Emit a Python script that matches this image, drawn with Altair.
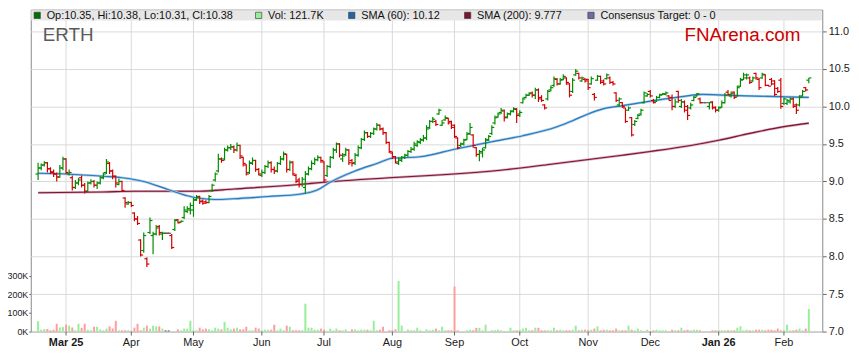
import altair as alt
import pandas as pd

# ---------------- data ----------------
opens = [
    9.10, 9.18, 9.22, 9.25, 9.17, 9.13, 9.10, 9.06, 9.18, 9.30,
    9.10, 9.05, 8.92, 8.98, 9.05, 8.95, 8.87, 8.98, 9.00, 8.95,
    8.98, 9.05, 9.12, 9.24, 9.14, 9.07, 8.96, 9.00, 8.78, 8.70,
    8.72, 8.58, 8.50, 8.22, 8.08, 7.97, 8.32, 8.28, 8.30, 8.40,
    8.30, 8.31, 8.31, 8.28, 8.36, 8.49, 8.46, 8.52, 8.60, 8.62,
    8.62, 8.76, 8.80, 8.74, 8.73, 8.72, 8.88, 9.02, 9.14, 9.30,
    9.30, 9.42, 9.45, 9.46, 9.42, 9.48, 9.32, 9.22, 9.12, 9.24,
    9.28, 9.16, 9.08, 9.12, 9.20, 9.25, 9.16, 9.14, 9.24, 9.30,
    9.36, 9.16, 9.26, 9.08, 9.02, 8.96, 8.92, 9.10, 9.17, 9.24,
    9.29, 9.32, 9.26, 9.08, 9.20, 9.32, 9.42, 9.50, 9.30, 9.36,
    9.42, 9.28, 9.25, 9.35, 9.45, 9.56, 9.65, 9.60, 9.64, 9.70,
    9.75, 9.70, 9.65, 9.52, 9.38, 9.33, 9.24, 9.28, 9.32, 9.35,
    9.40, 9.43, 9.48, 9.52, 9.55, 9.58, 9.72, 9.80, 9.80, 9.90,
    9.75, 9.82, 9.84, 9.80, 9.75, 9.58, 9.48, 9.50, 9.56, 9.64,
    9.62, 9.45, 9.36, 9.38, 9.45, 9.56, 9.64, 9.78, 9.86, 9.92,
    9.94, 9.86, 9.90, 9.94, 9.96, 9.90, 10.05, 10.12, 10.15, 10.18,
    10.15, 10.22, 10.12, 10.02, 10.10, 10.22, 10.28, 10.36, 10.30, 10.36,
    10.38, 10.30, 10.20, 10.42, 10.44, 10.34, 10.36, 10.36, 10.30, 10.16,
    10.35, 10.40, 10.34, 10.37, 10.38, 10.32, 10.18, 10.02, 10.05, 9.98,
    9.95, 9.85, 9.76, 9.84, 9.90, 10.05, 10.14, 10.20, 10.08, 10.07,
    10.12, 10.16, 10.16, 10.14, 10.12, 10.00, 10.20, 10.00, 10.06, 10.00,
    9.98, 10.08, 10.14, 10.10, 10.05, 10.05, 10.00, 10.06, 9.99, 9.95,
    9.99, 10.05, 10.19, 10.14, 10.19, 10.14, 10.27, 10.36, 10.38, 10.38,
    10.34, 10.44, 10.36, 10.38, 10.42, 10.28, 10.36, 10.34, 10.24, 10.35,
    10.04, 10.04, 10.06, 10.10, 10.02, 10.02, 10.14, 10.25, 10.35,
]
highs = [
    9.25, 9.24, 9.27, 9.26, 9.19, 9.16, 9.12, 9.22, 9.33, 9.31,
    9.16, 9.08, 9.02, 9.05, 9.08, 8.98, 9.00, 9.03, 9.02, 9.00,
    9.07, 9.12, 9.30, 9.26, 9.16, 9.08, 9.04, 9.01, 8.79, 8.74,
    8.73, 8.59, 8.54, 8.23, 8.32, 7.99, 8.52, 8.33, 8.42, 8.42,
    8.33, 8.32, 8.32, 8.30, 8.50, 8.50, 8.48, 8.67, 8.67, 8.72,
    8.78, 8.82, 8.81, 8.76, 8.75, 8.82, 8.97, 9.12, 9.37, 9.32,
    9.45, 9.48, 9.50, 9.48, 9.52, 9.49, 9.33, 9.23, 9.28, 9.32,
    9.29, 9.18, 9.16, 9.22, 9.28, 9.27, 9.20, 9.26, 9.34, 9.40,
    9.37, 9.28, 9.27, 9.10, 9.05, 9.06, 9.14, 9.20, 9.28, 9.32,
    9.35, 9.33, 9.27, 9.22, 9.34, 9.45, 9.52, 9.51, 9.38, 9.45,
    9.43, 9.30, 9.38, 9.48, 9.58, 9.68, 9.66, 9.66, 9.72, 9.78,
    9.76, 9.72, 9.66, 9.53, 9.40, 9.34, 9.32, 9.34, 9.37, 9.42,
    9.46, 9.53, 9.55, 9.58, 9.62, 9.75, 9.82, 9.86, 9.82, 9.97,
    9.82, 9.88, 9.85, 9.81, 9.76, 9.59, 9.52, 9.57, 9.66, 9.78,
    9.63, 9.46, 9.42, 9.45, 9.58, 9.62, 9.75, 9.88, 9.92, 9.98,
    9.96, 9.92, 9.95, 9.99, 9.98, 9.95, 10.12, 10.17, 10.19, 10.20,
    10.25, 10.24, 10.15, 10.03, 10.22, 10.28, 10.40, 10.38, 10.38, 10.43,
    10.39, 10.31, 10.38, 10.50, 10.45, 10.40, 10.38, 10.37, 10.40, 10.18,
    10.42, 10.41, 10.36, 10.44, 10.40, 10.34, 10.19, 10.12, 10.06, 9.98,
    10.00, 9.86, 9.82, 9.90, 9.97, 10.20, 10.18, 10.22, 10.10, 10.14,
    10.17, 10.18, 10.20, 10.15, 10.16, 10.10, 10.21, 10.10, 10.08, 10.02,
    10.05, 10.14, 10.18, 10.12, 10.05, 10.05, 10.06, 10.07, 10.00, 10.00,
    10.08, 10.18, 10.22, 10.20, 10.20, 10.28, 10.38, 10.45, 10.44, 10.40,
    10.40, 10.45, 10.38, 10.45, 10.43, 10.29, 10.38, 10.35, 10.26, 10.38,
    10.12, 10.10, 10.12, 10.12, 10.04, 10.15, 10.22, 10.26, 10.38,
]
lows = [
    9.02, 9.15, 9.20, 9.12, 9.10, 9.06, 9.00, 9.05, 9.15, 9.10,
    9.08, 8.88, 8.90, 8.95, 8.92, 8.84, 8.86, 8.96, 8.92, 8.90,
    8.96, 9.03, 9.10, 9.10, 9.03, 8.92, 8.95, 8.86, 8.65, 8.69,
    8.66, 8.47, 8.42, 8.00, 8.05, 7.86, 8.30, 8.03, 8.28, 8.28,
    8.22, 8.30, 8.30, 8.10, 8.34, 8.44, 8.45, 8.50, 8.58, 8.56,
    8.53, 8.74, 8.70, 8.69, 8.70, 8.71, 8.86, 9.00, 9.12, 9.25,
    9.28, 9.40, 9.42, 9.38, 9.40, 9.30, 9.20, 9.08, 9.10, 9.22,
    9.13, 9.08, 9.06, 9.10, 9.18, 9.12, 9.10, 9.12, 9.22, 9.28,
    9.12, 9.14, 9.08, 8.98, 8.92, 8.93, 8.84, 9.08, 9.15, 9.22,
    9.27, 9.25, 8.98, 9.06, 9.18, 9.30, 9.38, 9.32, 9.26, 9.34,
    9.22, 9.20, 9.22, 9.33, 9.43, 9.54, 9.58, 9.58, 9.62, 9.68,
    9.68, 9.62, 9.50, 9.38, 9.30, 9.24, 9.22, 9.26, 9.30, 9.33,
    9.38, 9.41, 9.46, 9.50, 9.53, 9.55, 9.70, 9.78, 9.74, 9.89,
    9.74, 9.81, 9.76, 9.70, 9.58, 9.43, 9.46, 9.48, 9.55, 9.62,
    9.45, 9.33, 9.27, 9.32, 9.44, 9.54, 9.62, 9.76, 9.85, 9.90,
    9.80, 9.84, 9.88, 9.92, 9.78, 9.86, 10.04, 10.11, 10.14, 10.12,
    10.10, 10.06, 10.06, 9.96, 10.08, 10.20, 10.26, 10.28, 10.29, 10.35,
    10.29, 10.12, 10.18, 10.41, 10.36, 10.33, 10.32, 10.22, 10.29, 10.08,
    10.34, 10.30, 10.28, 10.36, 10.30, 10.28, 10.06, 10.00, 9.98, 9.78,
    9.94, 9.60, 9.74, 9.83, 9.88, 10.04, 10.13, 10.12, 10.04, 10.06,
    10.11, 10.15, 10.15, 10.08, 9.95, 9.98, 10.05, 9.98, 9.92, 9.82,
    9.96, 10.07, 10.13, 10.04, 10.05, 10.05, 9.96, 9.96, 9.92, 9.93,
    9.98, 10.04, 10.15, 10.12, 10.10, 10.13, 10.26, 10.35, 10.36, 10.30,
    10.33, 10.36, 10.22, 10.37, 10.27, 10.27, 10.28, 10.14, 10.18, 9.97,
    10.02, 10.02, 10.04, 9.98, 9.90, 10.00, 10.13, 10.20, 10.31,
]
closes = [
    9.18, 9.22, 9.25, 9.17, 9.12, 9.10, 9.06, 9.18, 9.30, 9.12,
    9.12, 8.92, 8.98, 9.02, 8.95, 8.87, 8.98, 9.00, 8.95, 8.98,
    9.05, 9.10, 9.26, 9.14, 9.07, 8.98, 9.00, 8.88, 8.72, 8.72,
    8.68, 8.50, 8.44, 8.02, 8.28, 7.90, 8.48, 8.30, 8.38, 8.32,
    8.31, 8.31, 8.31, 8.12, 8.48, 8.45, 8.47, 8.62, 8.64, 8.68,
    8.75, 8.79, 8.73, 8.71, 8.72, 8.80, 8.95, 9.10, 9.30, 9.28,
    9.42, 9.45, 9.46, 9.42, 9.48, 9.34, 9.24, 9.10, 9.25, 9.28,
    9.16, 9.10, 9.12, 9.20, 9.25, 9.16, 9.14, 9.24, 9.30, 9.37,
    9.16, 9.25, 9.10, 9.00, 8.96, 9.03, 9.10, 9.17, 9.24, 9.29,
    9.32, 9.28, 9.02, 9.20, 9.32, 9.42, 9.50, 9.35, 9.34, 9.42,
    9.25, 9.24, 9.35, 9.45, 9.56, 9.65, 9.60, 9.64, 9.70, 9.75,
    9.70, 9.65, 9.52, 9.40, 9.33, 9.26, 9.30, 9.32, 9.35, 9.40,
    9.43, 9.50, 9.53, 9.56, 9.58, 9.70, 9.80, 9.83, 9.76, 9.95,
    9.78, 9.85, 9.78, 9.72, 9.60, 9.45, 9.50, 9.55, 9.63, 9.72,
    9.48, 9.36, 9.40, 9.42, 9.55, 9.60, 9.72, 9.85, 9.90, 9.95,
    9.85, 9.90, 9.93, 9.97, 9.88, 9.92, 10.10, 10.15, 10.17, 10.15,
    10.22, 10.10, 10.08, 9.98, 10.20, 10.25, 10.37, 10.30, 10.35, 10.40,
    10.32, 10.15, 10.35, 10.47, 10.38, 10.38, 10.34, 10.25, 10.37, 10.12,
    10.40, 10.32, 10.30, 10.42, 10.32, 10.30, 10.08, 10.10, 10.00, 9.80,
    9.98, 9.62, 9.80, 9.88, 9.95, 10.18, 10.16, 10.14, 10.05, 10.12,
    10.15, 10.17, 10.18, 10.08, 10.00, 10.06, 10.08, 10.06, 9.95, 9.88,
    10.02, 10.12, 10.17, 10.05, 10.05, 10.05, 10.05, 9.98, 9.95, 9.98,
    10.05, 10.15, 10.16, 10.17, 10.12, 10.25, 10.35, 10.42, 10.42, 10.32,
    10.38, 10.38, 10.25, 10.43, 10.28, 10.27, 10.30, 10.16, 10.20, 10.00,
    10.10, 10.08, 10.10, 10.00, 9.95, 10.12, 10.20, 10.22, 10.38,
]
vol_k = [
    56, 10, 14, 14, 7, 10, 42, 22, 25, 37,
    32, 22, 7, 42, 20, 42, 10, 7, 26, 26,
    12, 7, 16, 28, 17, 58, 7, 7, 7, 7,
    4, 21, 42, 7, 21, 32, 16, 32, 28, 28,
    16, 7, 7, 0, 0, 12, 7, 16, 16, 58,
    7, 7, 21, 12, 16, 12, 7, 21, 16, 12,
    52, 21, 12, 16, 21, 12, 12, 26, 7, 7,
    21, 16, 7, 10, 10, 10, 37, 7, 16, 7,
    32, 26, 7, 7, 7, 7, 150,
    21, 21, 10, 10, 16, 10, 4, 16, 7, 16,
    7, 7, 12, 0, 12, 12, 7, 10, 10, 10,
    7, 58, 7, 10, 26, 0, 7, 7, 12, 272,
    32, 0, 12, 7, 7, 21, 7, 0, 12, 7,
    10, 16, 7, 26, 7, 7, 7, 242,
    7, 0, 0, 7, 10, 7, 20, 20, 7, 37,
    0, 7, 7, 10, 7, 0, 0, 21, 7, 7,
    10, 16, 21, 7, 7, 21, 21, 7, 7, 7,
    7, 21, 7, 10, 7, 7, 7, 10, 32, 7,
    10, 10, 7, 10, 16, 28, 7, 10, 10, 7,
    7, 16, 7, 7, 7, 32, 10, 7, 16, 7,
    0, 10, 0, 7, 10, 7, 7, 7, 0, 10,
    7, 7, 21, 7, 10, 7, 10, 10, 7, 0,
    0, 0, 7, 7, 7, 7, 7, 7, 7, 7,
    21, 28, 7, 10, 7, 7, 10, 10, 10, 7,
    10, 10, 7, 16, 7, 7, 37, 7, 7, 10,
    16, 7, 16, 121.7,
]
month_idx = [9, 30, 50, 72, 92, 114, 134, 155, 177, 197, 219, 240]
month_lbl = ["Mar 25", "Apr", "May", "Jun", "Jul", "Aug", "Sep", "Oct", "Nov", "Dec", "Jan 26", "Feb"]

sma60_idx = [0, 9, 21, 27, 34, 42, 48, 57, 63, 74, 84, 90, 94, 102, 109, 114,
             123, 134, 146, 156, 167, 172, 177, 182, 188, 197, 207, 214, 221, 228, 239, 248]
sma60_val = [9.11, 9.10, 9.07, 9.05, 9.00, 8.89, 8.81, 8.76, 8.77, 8.80, 8.83, 8.89, 8.99, 9.14, 9.24, 9.31,
             9.33, 9.43, 9.53, 9.61, 9.73, 9.81, 9.90, 9.97, 10.01, 10.07, 10.13, 10.16, 10.15, 10.14, 10.13, 10.12]
sma200_idx = [0, 21, 31, 52, 63, 84, 92, 113, 126, 151, 165, 188, 197, 210, 219, 229, 240, 248]
sma200_val = [8.85, 8.86, 8.87, 8.87, 8.90, 8.96, 8.99, 9.05, 9.08, 9.16, 9.23, 9.35, 9.40, 9.48, 9.55, 9.64, 9.73, 9.777]

price_ticks = [7.0, 7.5, 8.0, 8.5, 9.0, 9.5, 10.0, 10.5, 11.0]
vol_ticks = [0, 100000, 200000, 300000]

# ---------------- chart ----------------
FONT = "Liberation Sans"
W, H = 799, 325

df = pd.DataFrame({"i": list(range(len(closes))), "open": opens, "high": highs,
                   "low": lows, "close": closes, "vol": [v * 1000 for v in vol_k]})
s60 = pd.DataFrame({"idx": sma60_idx, "val": sma60_val})
s200 = pd.DataFrame({"idx": sma200_idx, "val": sma200_val})
months = pd.DataFrame({"idx": month_idx, "lbl": month_lbl})
months["yr"] = months["lbl"].str.contains(r"\d")

xs = alt.Scale(domain=[-0.755, 250.74], nice=False, zero=False)
vs = alt.Scale(domain=[0, 1731000], nice=False, zero=True)


def ps():
    return alt.Scale(domain=[7.0, 11.29], nice=False, zero=False)


vol_axis = alt.Axis(orient="left", values=vol_ticks, labelExpr="datum.value/1000 + 'K'",
                    grid=False, tickSize=2, labelPadding=1, labelFontSize=9, title=None)
price_axis = alt.Axis(orient="right", values=price_ticks, format=".1f", grid=True,
                      tickSize=4, labelPadding=2, title=None)

# month grid, ticks and labels along the trading-day scale
mx = alt.X("idx:Q", scale=xs, axis=None)
mbase = alt.Chart(months)
m_grid = mbase.mark_rule(color="#dadada", strokeWidth=1).encode(x=mx, y=alt.value(0), y2=alt.value(H))
m_tick = mbase.mark_rule(color="#666666", strokeWidth=1).encode(x=mx, y=alt.value(H), y2=alt.value(H + 4))
m_lbl = mbase.transform_filter("!datum.yr").mark_text(
    baseline="top", font=FONT, fontSize=11, color="#1a1a1a").encode(
    x=mx, y=alt.value(H + 6), text="lbl:N")
m_lbl_b = mbase.transform_filter("datum.yr").mark_text(
    baseline="top", font=FONT, fontSize=11, fontWeight="bold", color="#1a1a1a").encode(
    x=mx, y=alt.value(H + 6), text="lbl:N")

base = alt.Chart(df).transform_calculate(
    pcol="datum.close > datum.open ? '#008c00' : (datum.close < datum.open ? '#d20000' : '#5a5a5a')",
    vcol="datum.close > datum.open ? '#98ee98' : (datum.close < datum.open ? '#ff9c9c' : '#7a7a7a')",
    il="datum.i - 0.8", ir="datum.i + 0.8")

vol = base.mark_bar(size=2).encode(
    x=alt.X("i:Q", scale=xs, axis=None),
    y=alt.Y("vol:Q", scale=vs, axis=vol_axis),
    color=alt.Color("vcol:N", scale=None))

hl = base.mark_rule(strokeWidth=1.2).encode(
    x=alt.X("i:Q", scale=xs, axis=None),
    y=alt.Y("low:Q", scale=ps(), axis=price_axis), y2="high:Q",
    color=alt.Color("pcol:N", scale=None))
op = base.mark_rule(strokeWidth=1.2).encode(
    x=alt.X("il:Q", scale=xs, axis=None), x2="i:Q",
    y=alt.Y("open:Q", scale=ps(), axis=None),
    color=alt.Color("pcol:N", scale=None))
cl = base.mark_rule(strokeWidth=1.2).encode(
    x=alt.X("i:Q", scale=xs, axis=None), x2="ir:Q",
    y=alt.Y("close:Q", scale=ps(), axis=None),
    color=alt.Color("pcol:N", scale=None))


def sma(frame, halo, core):
    enc = dict(x=alt.X("idx:Q", scale=xs, axis=None), y=alt.Y("val:Q", scale=ps(), axis=None))
    a = alt.Chart(frame).mark_line(strokeWidth=2.6, color=halo, interpolate="monotone").encode(**enc)
    b = alt.Chart(frame).mark_line(strokeWidth=1.2, color=core, interpolate="monotone").encode(**enc)
    return [a, b]


one = alt.Chart(pd.DataFrame({"k": [0]}))
deco = [one.mark_rect(color="#e7e7e7").encode(
    x=alt.value(0.5), x2=alt.value(W - 0.5), y=alt.value(0.5), y2=alt.value(11))]

legend_items = [
    ("#007000", f"Op:{opens[-1]:.2f}, Hi:{highs[-1]:.2f}, Lo:{lows[-1]:.2f}, Cl:{closes[-1]:.2f}", 6.5),
    ("#98ee98", f"Vol: {vol_k[-1]}K", 230),
    ("#1f66a8", f"SMA (60): {sma60_val[-1]:.2f}", 324),
    ("#7c1234", f"SMA (200): {sma200_val[-1]:.3f}", 441),
    ("#6c6ca6", "Consensus Target: 0 - 0", 565.5),
]
for col, txt, xp in legend_items:
    deco.append(one.mark_square(size=40, color=col, stroke="#333", strokeWidth=0.6, opacity=1).encode(
        x=alt.value(xp), y=alt.value(5.8)))
    deco.append(one.mark_text(align="left", baseline="middle", font=FONT, fontSize=11, color="#111").encode(
        x=alt.value(xp + 9.5), y=alt.value(6), text=alt.value(txt)))

deco.append(one.mark_text(align="left", baseline="alphabetic", font=FONT, fontSize=19, color="#5a5a5a").encode(
    x=alt.value(12), y=alt.value(32), text=alt.value("ERTH")))
deco.append(one.mark_text(align="right", baseline="alphabetic", font=FONT, fontSize=19, color="#cc0000").encode(
    x=alt.value(777), y=alt.value(32), text=alt.value("FNArena.com")))

chart = alt.layer(
    m_grid, vol, *sma(s200, "#d7aab7", "#7c1234"), *sma(s60, "#aacdea", "#2a7abb"),
    hl, op, cl, m_tick, m_lbl, m_lbl_b, *deco
).resolve_scale(y="independent").properties(
    width=W, height=H,
    autosize=alt.AutoSizeParams(type="none"),
    padding={"left": 23, "top": 0, "right": 29, "bottom": 22},
).configure_view(stroke="#8a8a8a", strokeWidth=1).configure_axis(
    labelFont=FONT, labelFontSize=11, labelColor="#1a1a1a", tickColor="#666666",
    gridColor="#dadada", gridWidth=1, domain=False)

chart.save("out.html", embed_options={"renderer": "svg", "actions": False})
